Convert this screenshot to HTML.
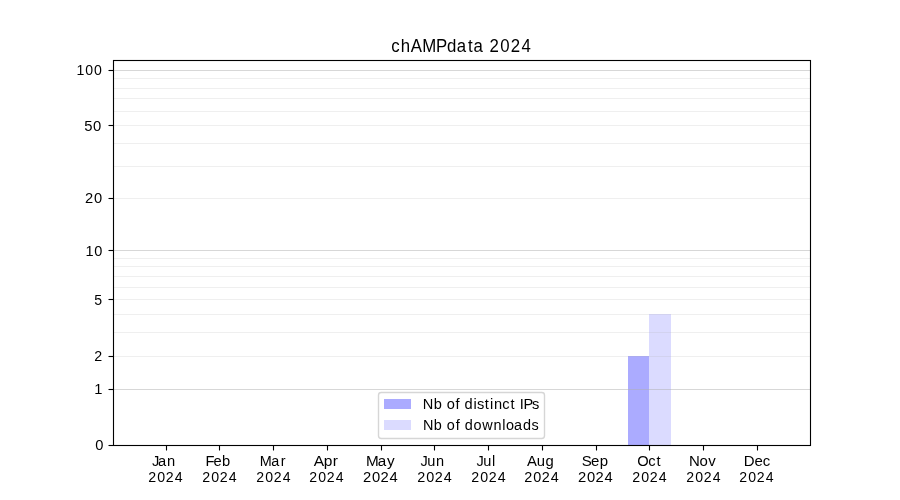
<!DOCTYPE html>
<html><head><meta charset="utf-8"><title>chAMPdata 2024</title><style>html,body{margin:0;padding:0;background:#fff;overflow:hidden}svg{display:block;will-change:transform}text{font-family:"Liberation Sans",sans-serif;fill:#000}</style></head><body>
<svg width="900" height="500" viewBox="0 0 900 500">
<rect x="0" y="0" width="900" height="500" fill="#fff"/>
<rect x="628" y="356" width="21" height="89" fill="rgb(171,171,255)"/>
<rect x="649" y="314" width="22" height="131" fill="rgb(219,219,255)"/>
<line x1="113" y1="70.5" x2="810" y2="70.5" stroke="#b0b0b0" stroke-opacity="0.5" stroke-width="1.111"/>
<line x1="113" y1="250.5" x2="810" y2="250.5" stroke="#b0b0b0" stroke-opacity="0.5" stroke-width="1.111"/>
<line x1="113" y1="389.5" x2="810" y2="389.5" stroke="#b0b0b0" stroke-opacity="0.5" stroke-width="1.111"/>
<line x1="113" y1="78.5" x2="810" y2="78.5" stroke="#b0b0b0" stroke-opacity="0.2" stroke-width="1.111"/>
<line x1="113" y1="88.5" x2="810" y2="88.5" stroke="#b0b0b0" stroke-opacity="0.2" stroke-width="1.111"/>
<line x1="113" y1="98.5" x2="810" y2="98.5" stroke="#b0b0b0" stroke-opacity="0.2" stroke-width="1.111"/>
<line x1="113" y1="111.5" x2="810" y2="111.5" stroke="#b0b0b0" stroke-opacity="0.2" stroke-width="1.111"/>
<line x1="113" y1="125.5" x2="810" y2="125.5" stroke="#b0b0b0" stroke-opacity="0.2" stroke-width="1.111"/>
<line x1="113" y1="143.5" x2="810" y2="143.5" stroke="#b0b0b0" stroke-opacity="0.2" stroke-width="1.111"/>
<line x1="113" y1="166.5" x2="810" y2="166.5" stroke="#b0b0b0" stroke-opacity="0.2" stroke-width="1.111"/>
<line x1="113" y1="198.5" x2="810" y2="198.5" stroke="#b0b0b0" stroke-opacity="0.2" stroke-width="1.111"/>
<line x1="113" y1="258.5" x2="810" y2="258.5" stroke="#b0b0b0" stroke-opacity="0.2" stroke-width="1.111"/>
<line x1="113" y1="266.5" x2="810" y2="266.5" stroke="#b0b0b0" stroke-opacity="0.2" stroke-width="1.111"/>
<line x1="113" y1="276.5" x2="810" y2="276.5" stroke="#b0b0b0" stroke-opacity="0.2" stroke-width="1.111"/>
<line x1="113" y1="287.5" x2="810" y2="287.5" stroke="#b0b0b0" stroke-opacity="0.2" stroke-width="1.111"/>
<line x1="113" y1="299.5" x2="810" y2="299.5" stroke="#b0b0b0" stroke-opacity="0.2" stroke-width="1.111"/>
<line x1="113" y1="314.5" x2="810" y2="314.5" stroke="#b0b0b0" stroke-opacity="0.2" stroke-width="1.111"/>
<line x1="113" y1="332.5" x2="810" y2="332.5" stroke="#b0b0b0" stroke-opacity="0.2" stroke-width="1.111"/>
<line x1="113" y1="356.5" x2="810" y2="356.5" stroke="#b0b0b0" stroke-opacity="0.2" stroke-width="1.111"/>
<rect x="113.5" y="60.5" width="697" height="385" fill="none" stroke="#000" stroke-width="1.111"/>
<line x1="108.5" y1="70.5" x2="113.5" y2="70.5" stroke="#000" stroke-width="1.111"/>
<line x1="108.5" y1="125.5" x2="113.5" y2="125.5" stroke="#000" stroke-width="1.111"/>
<line x1="108.5" y1="198.5" x2="113.5" y2="198.5" stroke="#000" stroke-width="1.111"/>
<line x1="108.5" y1="250.5" x2="113.5" y2="250.5" stroke="#000" stroke-width="1.111"/>
<line x1="108.5" y1="299.5" x2="113.5" y2="299.5" stroke="#000" stroke-width="1.111"/>
<line x1="108.5" y1="356.5" x2="113.5" y2="356.5" stroke="#000" stroke-width="1.111"/>
<line x1="108.5" y1="389.5" x2="113.5" y2="389.5" stroke="#000" stroke-width="1.111"/>
<line x1="108.5" y1="445.5" x2="113.5" y2="445.5" stroke="#000" stroke-width="1.111"/>
<line x1="166.5" y1="445.5" x2="166.5" y2="450.5" stroke="#000" stroke-width="1.111"/>
<line x1="219.5" y1="445.5" x2="219.5" y2="450.5" stroke="#000" stroke-width="1.111"/>
<line x1="273.5" y1="445.5" x2="273.5" y2="450.5" stroke="#000" stroke-width="1.111"/>
<line x1="327.5" y1="445.5" x2="327.5" y2="450.5" stroke="#000" stroke-width="1.111"/>
<line x1="381.5" y1="445.5" x2="381.5" y2="450.5" stroke="#000" stroke-width="1.111"/>
<line x1="434.5" y1="445.5" x2="434.5" y2="450.5" stroke="#000" stroke-width="1.111"/>
<line x1="488.5" y1="445.5" x2="488.5" y2="450.5" stroke="#000" stroke-width="1.111"/>
<line x1="542.5" y1="445.5" x2="542.5" y2="450.5" stroke="#000" stroke-width="1.111"/>
<line x1="596.5" y1="445.5" x2="596.5" y2="450.5" stroke="#000" stroke-width="1.111"/>
<line x1="649.5" y1="445.5" x2="649.5" y2="450.5" stroke="#000" stroke-width="1.111"/>
<line x1="703.5" y1="445.5" x2="703.5" y2="450.5" stroke="#000" stroke-width="1.111"/>
<line x1="757.5" y1="445.5" x2="757.5" y2="450.5" stroke="#000" stroke-width="1.111"/>
<rect x="378.5" y="392.5" width="166" height="46" rx="2.78" ry="2.78" fill="#fff" fill-opacity="0.8" stroke="rgb(204,204,204)" stroke-opacity="0.8" stroke-width="1.389"/>
<rect x="384" y="399" width="27" height="10" fill="rgb(171,171,255)"/>
<rect x="384" y="420" width="27" height="10" fill="rgb(219,219,255)"/>
<text transform="translate(390.96,52.00) scale(0.9600,1)" x="0.20 10.17 20.60 32.55 46.98 58.26 68.54 80.26 85.94 96.74 102.66 113.91 124.70 135.94" y="0" font-size="17.50">chAMPdata 2024</text>
<text transform="translate(75.97,75.00) scale(0.9604,1)" x="0.44 9.70 18.89" y="0" font-size="14.70">100</text>
<text transform="translate(83.97,131.00) scale(1.0100,1)" x="0.23 9.02" y="0" font-size="14.70">50</text>
<text transform="translate(84.82,203.00) scale(1.0000,1)" x="0.14 9.15" y="0" font-size="14.70">20</text>
<text transform="translate(85.15,256.00) scale(0.9900,1)" x="0.30 9.29" y="0" font-size="14.70">10</text>
<text transform="translate(93.78,305.00) scale(0.9600,1)" x="0.45" y="0" font-size="14.70">5</text>
<text transform="translate(93.98,361.00) scale(0.9702,1)" x="0.27" y="0" font-size="14.70">2</text>
<text transform="translate(93.89,394.00) scale(1.0000,1)" x="0.25" y="0" font-size="14.70">1</text>
<text transform="translate(94.91,450.00) scale(1.0000,1)" x="0.33" y="0" font-size="14.70">0</text>
<text transform="translate(154.18,466.00) scale(1.0000,1)" x="-2.24 3.73 12.94" y="0" font-size="14.70">Jan</text>
<text transform="translate(147.92,482.00) scale(0.9800,1)" x="0.29 9.49 18.31 27.50" y="0" font-size="14.48">2024</text>
<text transform="translate(205.95,466.00) scale(1.0000,1)" x="-0.53 7.44 16.17" y="0" font-size="14.70">Feb</text>
<text transform="translate(201.92,482.00) scale(0.9800,1)" x="0.29 9.49 18.31 27.50" y="0" font-size="14.48">2024</text>
<text transform="translate(259.64,466.00) scale(0.9800,1)" x="-0.01 11.94 21.63" y="0" font-size="14.70">Mar</text>
<text transform="translate(255.87,482.00) scale(0.9600,1)" x="0.32 9.71 18.71 28.09" y="0" font-size="14.70">2024</text>
<text transform="translate(314.06,466.00) scale(1.0400,1)" x="-0.41 9.29 18.09" y="0" font-size="14.92">Apr</text>
<text transform="translate(308.90,482.00) scale(0.9600,1)" x="0.32 9.71 18.71 28.09" y="0" font-size="14.70">2024</text>
<text transform="translate(366.27,466.00) scale(1.0400,1)" x="-0.36 11.00 19.96" y="0" font-size="14.70">May</text>
<text transform="translate(362.79,482.00) scale(0.9898,1)" x="0.13 9.23 17.96 27.07" y="0" font-size="14.92">2024</text>
<text transform="translate(422.72,466.00) scale(0.9900,1)" x="-2.23 4.46 13.40" y="0" font-size="14.70">Jun</text>
<text transform="translate(416.97,482.00) scale(0.9800,1)" x="0.23 9.43 18.25 27.44" y="0" font-size="14.70">2024</text>
<text transform="translate(478.71,466.00) scale(0.9900,1)" x="-2.23 4.46 13.33" y="0" font-size="14.70">Jul</text>
<text transform="translate(470.92,482.00) scale(0.9800,1)" x="0.29 9.49 18.31 27.50" y="0" font-size="14.48">2024</text>
<text transform="translate(527.09,466.00) scale(1.0100,1)" x="-0.20 9.64 18.30" y="0" font-size="14.70">Aug</text>
<text transform="translate(523.97,482.00) scale(0.9800,1)" x="0.23 9.43 18.25 27.44" y="0" font-size="14.70">2024</text>
<text transform="translate(582.18,466.00) scale(1.0200,1)" x="-0.51 8.76 17.32" y="0" font-size="14.70">Sep</text>
<text transform="translate(577.79,482.00) scale(0.9898,1)" x="0.13 9.23 17.96 27.07" y="0" font-size="14.92">2024</text>
<text transform="translate(637.39,466.00) scale(1.0000,1)" x="-0.25 10.90 19.19" y="0" font-size="14.70">Oct</text>
<text transform="translate(631.92,482.00) scale(0.9800,1)" x="0.29 9.49 18.31 27.50" y="0" font-size="14.48">2024</text>
<text transform="translate(689.14,466.00) scale(1.0200,1)" x="-0.22 10.26 18.85" y="0" font-size="14.70">Nov</text>
<text transform="translate(685.87,482.00) scale(0.9600,1)" x="0.32 9.71 18.71 28.09" y="0" font-size="14.70">2024</text>
<text transform="translate(743.70,466.00) scale(1.0200,1)" x="-0.05 10.60 18.75" y="0" font-size="14.70">Dec</text>
<text transform="translate(738.91,482.00) scale(0.9600,1)" x="0.32 9.71 18.71 28.09" y="0" font-size="14.70">2024</text>
<text transform="translate(422.95,409.00) scale(1.0000,1)" x="-0.08 10.81 19.19 23.79 32.68 36.97 41.65 50.50 54.11 61.93 67.03 70.94 79.36 87.65 92.43 96.86 100.48 109.12" y="0" font-size="14.60">Nb of distinct IPs</text>
<text transform="translate(423.02,430.00) scale(0.9900,1)" x="-0.03 10.97 19.38 24.07 33.03 37.34 42.11 50.93 59.73 71.15 79.94 83.74 91.80 100.98 109.67" y="0" font-size="14.60">Nb of downloads</text>
</svg></body></html>
